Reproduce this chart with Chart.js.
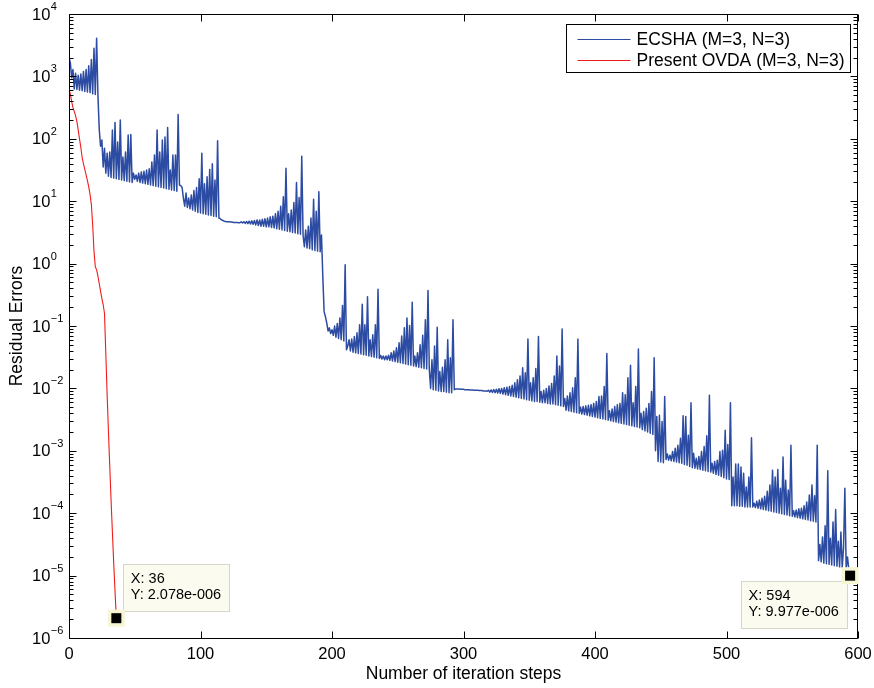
<!DOCTYPE html>
<html>
<head>
<meta charset="utf-8">
<title>Residual errors vs iteration steps</title>
<script src="https://cdn.jsdelivr.net/npm/chart.js@4.4.1/dist/chart.umd.min.js"></script>
<style>
  html, body { margin: 0; padding: 0; background: #fff; }
  canvas { display: block; }
</style>
</head>
<body>
<canvas id="chart" width="874" height="688"></canvas>
<script>
const ITERATION_TICKS = [0, 100, 200, 300, 400, 500, 600];
const Y_EXPONENTS = [-6, -5, -4, -3, -2, -1, 0, 1, 2, 3, 4];
const MINOR_STEPS = [2, 3, 4, 5, 6, 7, 8, 9];

const SERIES_NAMES = ['ECSHA (M=3, N=3)', 'Present OVDA (M=3, N=3)'];

// log10 of the residual error at iteration 0, 1, 2, ...
const ECSHA_LOG10 = [
  3.30, 3.22, 2.98, 3.11, 2.80, 3.05, 2.79, 3.02, 2.78, 3.04,
  2.77, 3.08, 2.76, 3.11, 2.75, 3.17, 2.74, 3.27, 2.72, 3.45,
  2.71, 3.61, 2.70, 2.15, 1.88, 1.98, 1.55, 1.85, 1.45, 1.77,
  1.40, 1.79, 1.38, 2.14, 1.37, 2.26, 1.36, 1.95, 1.35, 2.30,
  1.34, 1.71, 1.33, 1.79, 1.32, 2.06, 1.31, 2.07, 1.30, 1.45,
  1.35, 1.42, 1.32, 1.45, 1.30, 1.47, 1.29, 1.48, 1.28, 1.50,
  1.27, 1.52, 1.26, 1.63, 1.25, 1.74, 1.24, 2.14, 1.23, 1.79,
  1.22, 1.98, 1.21, 2.03, 1.20, 2.18, 1.19, 1.50, 1.18, 1.74,
  1.17, 1.74, 1.16, 2.39, 1.26, 1.25, 1.22, 1.05, 0.92, 1.13,
  0.90, 1.05, 0.88, 1.10, 0.86, 1.17, 0.84, 1.22, 0.82, 1.36,
  0.81, 1.77, 0.80, 1.28, 0.79, 1.39, 0.78, 1.51, 0.77, 1.60,
  0.76, 1.34, 0.75, 1.97, 0.73, 0.72, 0.70, 0.69, 0.68, 0.675,
  0.67, 0.67, 0.67, 0.665, 0.665, 0.66, 0.66, 0.66, 0.66, 0.655,
  0.655, 0.67, 0.65, 0.67, 0.645, 0.675, 0.64, 0.68, 0.635, 0.685,
  0.63, 0.69, 0.62, 0.70, 0.61, 0.70, 0.60, 0.71, 0.60, 0.72,
  0.59, 0.73, 0.59, 0.75, 0.58, 0.76, 0.57, 0.80, 0.56, 0.84,
  0.55, 0.92, 0.54, 1.07, 0.53, 1.53, 0.52, 0.80, 0.51, 0.86,
  0.50, 0.98, 0.49, 1.30, 0.48, 1.06, 0.47, 1.72, 0.45, 0.27,
  0.54, 0.25, 0.60, 0.24, 0.73, 0.22, 1.03, 0.21, 0.84, 0.20,
  1.15, 0.19, 0.46, -0.20, -0.77, -0.85, -0.95, -1.08, -1.03, -1.12,
  -1.06, -1.15, -1.00, -1.18, -0.96, -1.20, -0.87, -1.22, -0.67, -1.24,
  -0.02, -1.38, -1.32, -1.22, -1.40, -1.21, -1.42, -1.17, -1.43, -1.11,
  -1.44, -0.98, -1.45, -0.65, -1.46, -0.98, -1.47, -0.53, -1.48, -1.22,
  -1.49, -1.14, -1.50, -0.98, -1.51, -0.41, -1.52, -1.47, -1.53, -1.48,
  -1.54, -1.48, -1.54, -1.47, -1.55, -1.43, -1.56, -1.40, -1.57, -1.35,
  -1.58, -1.27, -1.59, -1.16, -1.60, -1.03, -1.61, -0.87, -1.62, -0.99,
  -1.63, -0.62, -1.64, -1.48, -1.65, -1.43, -1.66, -1.30, -1.67, -1.15,
  -1.68, -0.90, -1.69, -0.43, -1.70, -2.00, -1.54, -2.02, -1.32, -2.03,
  -1.02, -2.04, -1.73, -2.05, -1.66, -2.05, -1.54, -2.06, -1.22, -2.07,
  -1.51, -2.07, -0.90, -2.02, -2.01, -2.01, -2.01, -2.01, -2.015, -2.015,
  -2.015, -2.02, -2.02, -2.02, -2.02, -2.025, -2.025, -2.025, -2.03, -2.03,
  -2.03, -2.03, -2.035, -2.035, -2.035, -2.04, -2.04, -2.04, -2.045, -2.03,
  -2.06, -2.025, -2.065, -2.02, -2.07, -2.015, -2.075, -2.005, -2.08, -2.00,
  -2.09, -1.99, -2.10, -1.98, -2.11, -1.97, -2.12, -1.95, -2.13, -1.91,
  -2.14, -1.86, -2.15, -1.80, -2.16, -1.67, -2.17, -1.75, -2.18, -1.21,
  -2.19, -1.91, -2.20, -1.83, -2.21, -1.68, -2.21, -1.17, -2.22, -2.05,
  -2.23, -2.03, -2.23, -2.00, -2.24, -1.96, -2.25, -1.92, -2.25, -1.80,
  -2.26, -1.48, -2.27, -1.64, -2.28, -1.05, -2.29, -2.16, -2.35, -2.12,
  -2.36, -2.07, -2.37, -1.99, -2.38, -1.83, -2.39, -1.21, -2.40, -2.30,
  -2.41, -2.29, -2.42, -2.28, -2.43, -2.27, -2.44, -2.26, -2.45, -2.24,
  -2.46, -2.21, -2.47, -2.13, -2.48, -2.12, -2.49, -1.97, -2.50, -1.44,
  -2.51, -2.36, -2.52, -2.33, -2.53, -2.29, -2.54, -2.26, -2.55, -2.24,
  -2.56, -2.07, -2.57, -2.10, -2.58, -1.83, -2.59, -1.63, -2.60, -2.23,
  -2.61, -1.97, -2.62, -1.37, -2.63, -2.40, -2.66, -2.37, -2.68, -2.32,
  -2.70, -2.24, -2.72, -2.05, -2.74, -1.51, -3.00, -2.45, -3.17, -2.43,
  -3.18, -2.53, -3.19, -2.13, -3.14, -3.05, -3.15, -3.07, -3.16, -3.01,
  -3.17, -2.96, -3.18, -2.91, -3.19, -2.80, -3.20, -2.44, -3.22, -2.45,
  -3.23, -2.75, -3.25, -2.23, -3.27, -3.04, -3.28, -3.12, -3.29, -3.09,
  -3.30, -3.01, -3.31, -2.93, -3.32, -2.76, -3.33, -2.11, -3.34, -3.20,
  -3.36, -3.17, -3.38, -3.15, -3.39, -3.01, -3.41, -2.99, -3.43, -2.67,
  -3.45, -2.90, -3.46, -2.23, -3.88, -3.42, -3.88, -3.21, -3.88, -3.21,
  -3.89, -3.26, -3.89, -3.36, -3.90, -3.58, -3.90, -3.42, -3.90, -2.79,
  -3.90, -3.84, -3.91, -3.81, -3.92, -3.79, -3.93, -3.76, -3.94, -3.73,
  -3.95, -3.65, -3.96, -3.55, -3.97, -3.31, -3.98, -3.42, -3.99, -3.30,
  -4.00, -3.60, -4.01, -3.10, -4.02, -3.47, -4.03, -3.63, -4.04, -2.91,
  -4.05, -3.96, -4.06, -3.95, -4.07, -3.93, -4.08, -3.92, -4.09, -3.88,
  -4.10, -3.82, -4.11, -3.71, -4.12, -3.55, -4.13, -3.72, -4.14, -2.91,
  -4.76, -4.50, -4.78, -4.38, -4.80, -4.20, -4.81, -3.32, -4.82, -4.40,
  -4.83, -4.14, -4.84, -3.94, -4.85, -4.45, -4.86, -4.30, -4.87, -4.55,
  -3.60, -4.88, -4.70, -4.90, -5.001
];

const OVDA_LOG10 = [
  2.80, 2.72, 2.60, 2.50, 2.44, 2.37, 2.28, 2.14, 2.00, 1.86,
  1.70, 1.60, 1.51, 1.42, 1.33, 1.23, 1.11, 0.95, 0.62, 0.20,
  -0.05, -0.10, -0.20, -0.32, -0.44, -0.56, -0.66, -0.80, -1.45, -2.10,
  -2.70, -3.25, -3.80, -4.30, -4.80, -5.25, -5.682
];

// data cursors shown in the figure
const TIP_X = [36, 594];
const TIP_Y = [2.078e-6, 9.977e-6];
const TIP_TEXT_Y = ['2.078e-006', '9.977e-006'];

const BLUE = '#2c4ba2';
const RED = '#f01c1c';
const FONT = '"Liberation Sans", Helvetica, Arial, sans-serif';

function toPoints(logValues){
    return logValues.map((e, step) => ({x: step, y: Math.pow(10, e)}));
}

const matlabFrame = {
    id: 'matlabFrame',
    afterDatasetsDraw(chart){
        const {ctx, chartArea: area, scales: {x, y}} = chart;
        const L = Math.round(area.left) + 0.5;
        const R = Math.round(area.right) - 0.5;
        const T = Math.round(area.top) + 0.5;
        const B = Math.round(area.bottom) + 0.5;
        ctx.save();
        ctx.strokeStyle = '#000';
        ctx.lineWidth = 1;
        ctx.beginPath();
        ctx.rect(L, T, R - L, B - T);

        Y_EXPONENTS.forEach(e => {
            const py = Math.round(y.getPixelForValue(Math.pow(10, e))) + 0.5;
            ctx.moveTo(L, py); ctx.lineTo(L + 7, py);
            ctx.moveTo(R, py); ctx.lineTo(R - 7, py);
            if (e < 4) {
                MINOR_STEPS.forEach(s => {
                    const pm = Math.round(y.getPixelForValue(s * Math.pow(10, e))) + 0.5;
                    ctx.moveTo(L, pm); ctx.lineTo(L + 4, pm);
                    ctx.moveTo(R, pm); ctx.lineTo(R - 4, pm);
                });
            }
        });
        ITERATION_TICKS.forEach(v => {
            const px = Math.round(x.getPixelForValue(v)) + 0.5;
            ctx.moveTo(px, B); ctx.lineTo(px, B - 7);
            ctx.moveTo(px, T); ctx.lineTo(px, T + 7);
        });
        ctx.stroke();

        // y tick labels as 10 with a raised exponent
        ctx.fillStyle = '#000';
        ctx.textAlign = 'left';
        ctx.textBaseline = 'middle';
        Y_EXPONENTS.forEach(e => {
            const py = y.getPixelForValue(Math.pow(10, e));
            ctx.font = '16.5px ' + FONT;
            ctx.fillText('10', 32, py + 1);
            const w = ctx.measureText('10').width;
            ctx.font = '11px ' + FONT;
            ctx.fillText(String(e).replace('-', '\u2212'), 32 + w + 0.5, py - 7);
        });
        ctx.restore();
    },
    afterDraw(chart){
        const {ctx, chartArea: area, scales: {x, y}} = chart;
        ctx.save();

        // legend box, top right inside the axes
        const boxW = 284, boxH = 48;
        const bx = Math.round(area.right - 8 - boxW) + 0.5;
        const by = Math.round(area.top + 10) + 0.5;
        ctx.fillStyle = '#fff';
        ctx.fillRect(bx, by, boxW, boxH);
        ctx.strokeStyle = '#000';
        ctx.lineWidth = 1;
        ctx.strokeRect(bx, by, boxW, boxH);
        ctx.font = '17.5px ' + FONT;
        ctx.textBaseline = 'middle';
        ctx.textAlign = 'left';
        [BLUE, RED].forEach((color, i) => {
            const ry = by + 15 + i * 21;
            ctx.strokeStyle = color;
            ctx.beginPath();
            ctx.moveTo(bx + 11, ry);
            ctx.lineTo(bx + 64, ry);
            ctx.stroke();
            ctx.fillStyle = '#000';
            ctx.fillText(SERIES_NAMES[i], bx + 70, ry + 1);
        });

        // data cursors
        TIP_X.forEach((tx, i) => {
            const px = x.getPixelForValue(tx);
            const py = y.getPixelForValue(TIP_Y[i]);
            const w = 106, h = 47;
            const left = i === 0 ? px + 6.5 : px - 109.5;
            const top = i === 0 ? py - 54 : py + 5;
            ctx.fillStyle = '#fbfbef';
            ctx.fillRect(Math.round(left) + 0.5, Math.round(top) + 0.5, w, h);
            ctx.strokeStyle = '#d6d6c8';
            ctx.strokeRect(Math.round(left) + 0.5, Math.round(top) + 0.5, w, h);
            ctx.fillStyle = '#000';
            ctx.font = '14.5px ' + FONT;
            ctx.textBaseline = 'middle';
            ctx.fillText('X: ' + tx, left + 8, top + 15);
            ctx.fillText('Y: ' + TIP_TEXT_Y[i], left + 8, top + 31);

            ctx.fillStyle = '#f6f6d4';
            ctx.fillRect(px - 8.5, py - 8.5, 17, 17);
            ctx.fillStyle = '#000';
            ctx.fillRect(px - 5, py - 5, 10, 10);
        });
        ctx.restore();
    }
};

new Chart(document.getElementById('chart'), {
    type: 'line',
    data: {
        datasets: [
            {
                label: SERIES_NAMES[0],
                data: toPoints(ECSHA_LOG10),
                borderColor: BLUE,
                borderWidth: 1.5,
                borderJoinStyle: 'round',
                pointRadius: 0,
                fill: false,
                tension: 0
            },
            {
                label: SERIES_NAMES[1],
                data: toPoints(OVDA_LOG10),
                borderColor: RED,
                borderWidth: 1.1,
                borderJoinStyle: 'round',
                pointRadius: 0,
                fill: false,
                tension: 0
            }
        ]
    },
    options: {
        responsive: false,
        animation: false,
        devicePixelRatio: 1,
        layout: {padding: {left: 0, right: 16, top: 14, bottom: 0}},
        plugins: {legend: {display: false}, tooltip: {enabled: false}},
        scales: {
            x: {
                type: 'linear',
                min: 0,
                max: 600,
                ticks: {stepSize: 100, color: '#000', padding: 7, maxRotation: 0, font: {family: FONT, size: 16.5}},
                grid: {display: false, drawTicks: false},
                border: {display: false},
                title: {display: true, text: 'Number of iteration steps', color: '#000', font: {family: FONT, size: 17.5}, padding: {top: 0, bottom: 3}},
                afterFit(scale){
                    scale.height = 50;
                    scale.paddingLeft = 0;
                    scale.paddingRight = 0;
                }
            },
            y: {
                type: 'logarithmic',
                min: 1e-6,
                max: 1e4,
                ticks: {display: false},
                grid: {display: false, drawTicks: false},
                border: {display: false},
                title: {display: true, text: 'Residual Errors', color: '#000', font: {family: FONT, size: 17.5}, padding: {top: 7, bottom: 0}},
                afterFit(scale){ scale.width = 69; }
            }
        }
    },
    plugins: [matlabFrame]
});
</script>
</body>
</html>
